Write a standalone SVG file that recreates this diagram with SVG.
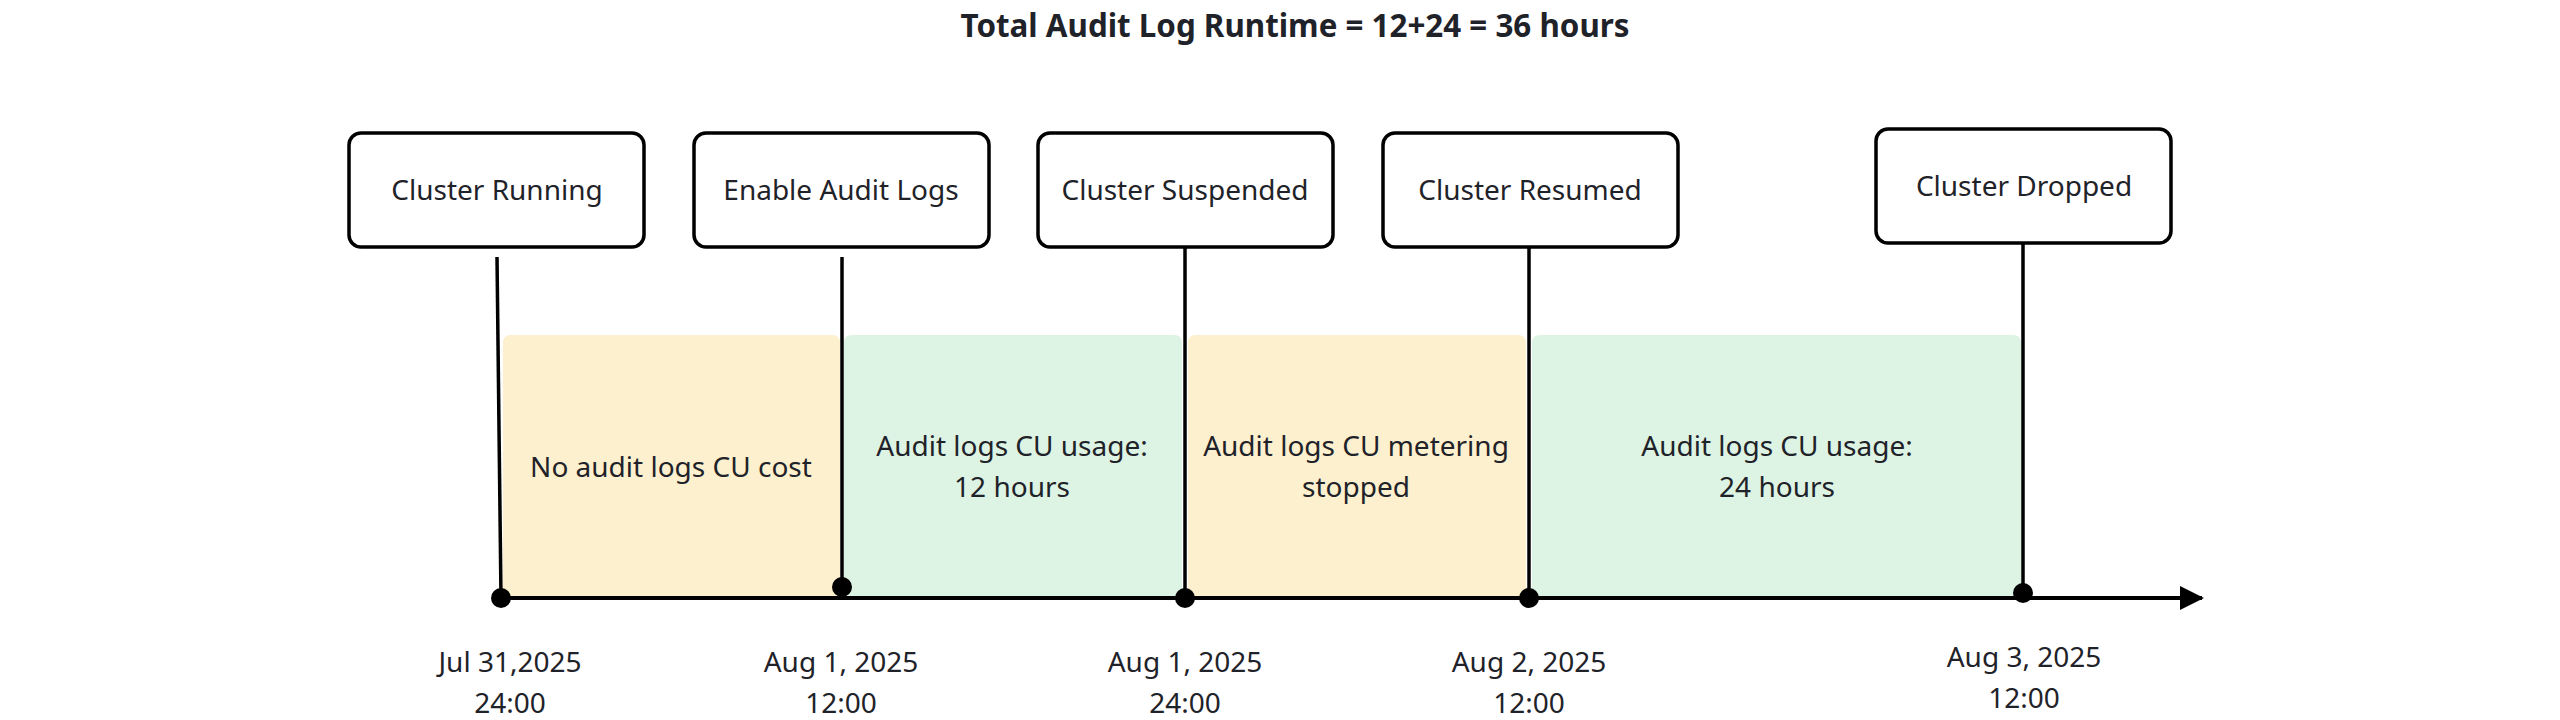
<svg xmlns="http://www.w3.org/2000/svg" width="2560" height="720" viewBox="0 0 2560 720">
  <style>
    .t { font-family: "Noto Sans", "Open Sans", "Liberation Sans", sans-serif; fill: #1f2329; text-anchor: middle; }
    .title { font-size: 32px; font-weight: 700; }
    .lbl { font-size: 28px; }
    .box { fill: #ffffff; stroke: #000000; stroke-width: 3.5; }
    .ln { stroke: #000000; stroke-width: 3.5; fill: none; }
    .axis { stroke: #000000; stroke-width: 4; fill: none; }
    .dot { fill: #000000; }
    .yel { fill: #fdf0ce; }
    .grn { fill: #ddf3e3; }
  </style>
  <defs>
    <marker id="arrow" markerWidth="6" markerHeight="6" refX="5.5" refY="3" orient="auto" markerUnits="strokeWidth" viewBox="0 0 6 6">
      <path d="M0,0 L6,3 L0,6 Z" fill="#000000"/>
    </marker>
  </defs>
  <rect width="2560" height="720" fill="#ffffff"/>

  <text class="t title" x="1295" y="37" textLength="669" lengthAdjust="spacingAndGlyphs">Total Audit Log Runtime = 12+24 = 36 hours</text>

  <g id="periods">
    <g id="period-no-cost">
      <path class="yel" d="M503,598 V343 Q503,335 511,335 H832 Q840,335 840,343 V598 Z"/>
      <text class="t lbl" x="671" y="477">No audit logs CU cost</text>
    </g>
    <g id="period-usage-12">
      <path class="grn" d="M844,598 V343 Q844,335 852,335 H1174 Q1182,335 1182,343 V598 Z"/>
      <text class="t lbl" x="1012" y="456">Audit logs CU usage:</text>
      <text class="t lbl" x="1012" y="497">12 hours</text>
    </g>
    <g id="period-stopped">
      <path class="yel" d="M1188,598 V343 Q1188,335 1196,335 H1518 Q1526,335 1526,343 V598 Z"/>
      <text class="t lbl" x="1356" y="456">Audit logs CU metering</text>
      <text class="t lbl" x="1356" y="497">stopped</text>
    </g>
    <g id="period-usage-24">
      <path class="grn" d="M1532,598 V343 Q1532,335 1540,335 H2013 Q2021,335 2021,343 V598 Z"/>
      <text class="t lbl" x="1777" y="456">Audit logs CU usage:</text>
      <text class="t lbl" x="1777" y="497">24 hours</text>
    </g>
  </g>

  <g id="connectors">
    <line class="axis" x1="501" y1="598" x2="2202" y2="598" marker-end="url(#arrow)"/>
    <line class="ln" x1="497" y1="257" x2="501" y2="598"/>
    <line class="ln" x1="842" y1="257" x2="842" y2="587"/>
    <line class="ln" x1="1185" y1="247" x2="1185" y2="598"/>
    <line class="ln" x1="1529" y1="247" x2="1529" y2="598"/>
    <line class="ln" x1="2023" y1="243" x2="2023" y2="593"/>
    <circle class="dot" cx="501" cy="598" r="10"/>
    <circle class="dot" cx="842" cy="587" r="10"/>
    <circle class="dot" cx="1185" cy="598" r="10"/>
    <circle class="dot" cx="1529" cy="598" r="10"/>
    <circle class="dot" cx="2023" cy="593" r="10"/>
  </g>

  <g id="node-running">
    <rect class="box" x="349" y="133" width="295" height="114" rx="12"/>
    <text class="t lbl" x="497" y="200">Cluster Running</text>
  </g>
  <g id="node-enable">
    <rect class="box" x="694" y="133" width="295" height="114" rx="12"/>
    <text class="t lbl" x="841" y="200">Enable Audit Logs</text>
  </g>
  <g id="node-suspended">
    <rect class="box" x="1038" y="133" width="295" height="114" rx="12"/>
    <text class="t lbl" x="1185" y="200">Cluster Suspended</text>
  </g>
  <g id="node-resumed">
    <rect class="box" x="1383" y="133" width="295" height="114" rx="12"/>
    <text class="t lbl" x="1530" y="200">Cluster Resumed</text>
  </g>
  <g id="node-dropped">
    <rect class="box" x="1876" y="129" width="295" height="114" rx="12"/>
    <text class="t lbl" x="2024" y="196">Cluster Dropped</text>
  </g>

  <g id="dates">
    <text class="t lbl" x="510" y="672">Jul 31,2025</text>
    <text class="t lbl" x="510" y="713">24:00</text>
    <text class="t lbl" x="841" y="672">Aug 1, 2025</text>
    <text class="t lbl" x="841" y="713">12:00</text>
    <text class="t lbl" x="1185" y="672">Aug 1, 2025</text>
    <text class="t lbl" x="1185" y="713">24:00</text>
    <text class="t lbl" x="1529" y="672">Aug 2, 2025</text>
    <text class="t lbl" x="1529" y="713">12:00</text>
    <text class="t lbl" x="2024" y="667">Aug 3, 2025</text>
    <text class="t lbl" x="2024" y="708">12:00</text>
  </g>
</svg>
